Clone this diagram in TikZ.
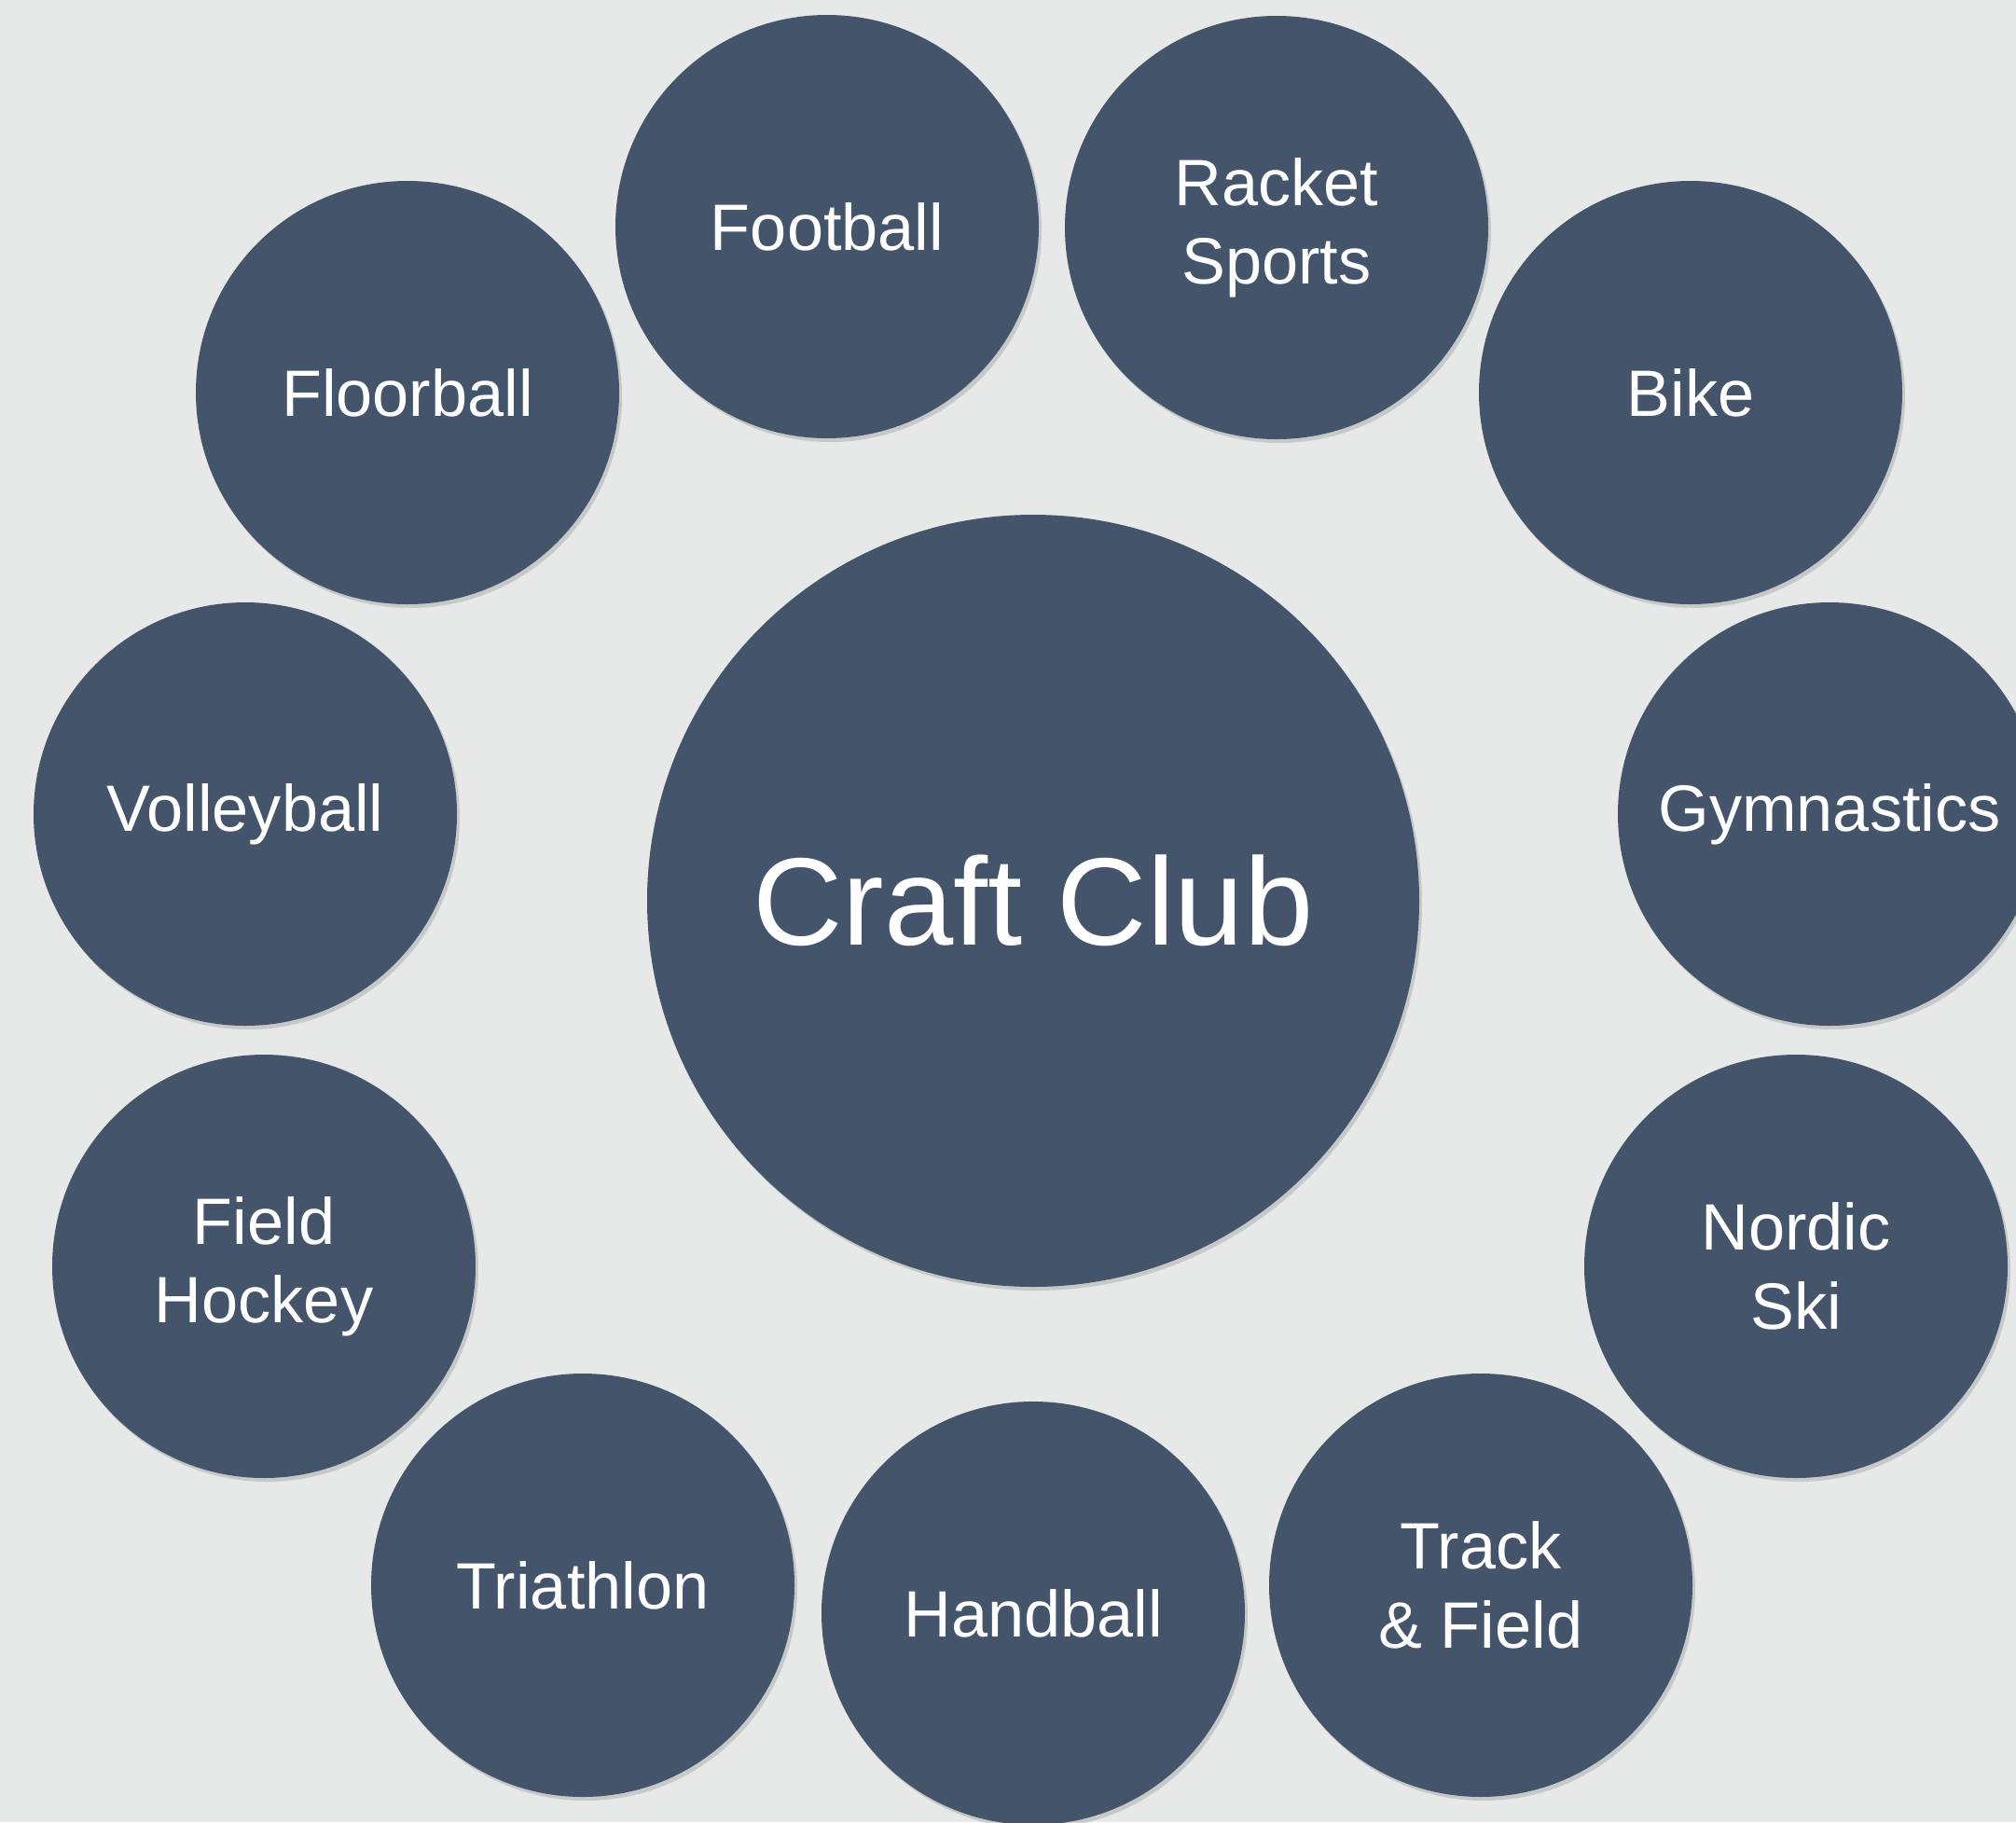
\documentclass[tikz,border=0pt]{standalone}
\usepackage{fontspec}
\setmainfont{Liberation Sans}
\usetikzlibrary{shadows}
\definecolor{slate}{HTML}{44546A}
\definecolor{bggray}{HTML}{E7E9E8}

\begin{document}
\begin{tikzpicture}[
    sport/.style={circle, fill=slate, minimum size=4.54cm, inner sep=0pt, text=white, align=center,
        font=\fontsize{20}{24}\selectfont,
        drop shadow={opacity=0.3, shadow xshift=0.03cm, shadow yshift=-0.04cm}},
    hub/.style={sport, minimum size=8.28cm, font=\fontsize{38}{45}\selectfont}]
    % Background
    \fill[bggray] (0,0) rectangle (21.62,-19.54);
    \useasboundingbox (0,0) rectangle (21.62,-19.54);

    % Centre circle
    \node[hub] (craft) at (11.08,-9.66) {Craft Club};

    % Ring of sports (clockwise from the top)
    \node[sport] (football) at (8.87,-2.43) {Football};
    \node[sport] (racket) at (13.69,-2.44) {Racket\\Sports};
    \node[sport] (bike) at (18.13,-4.21) {Bike};
    \node[sport] (gym) at (19.62,-8.73) {Gymnastics};
    \node[sport] (nordic) at (19.26,-13.58) {Nordic\\Ski};
    \node[sport] (track) at (15.88,-17.00) {Track\\\& Field};
    \node[sport] (hand) at (11.08,-17.30) {Handball};
    \node[sport] (tri) at (6.25,-17.00) {Triathlon};
    \node[sport] (hockey) at (2.83,-13.58) {Field\\Hockey};
    \node[sport] (volley) at (2.63,-8.73) {Volleyball};
    \node[sport] (floor) at (4.37,-4.21) {Floorball};
\end{tikzpicture}
\end{document}
